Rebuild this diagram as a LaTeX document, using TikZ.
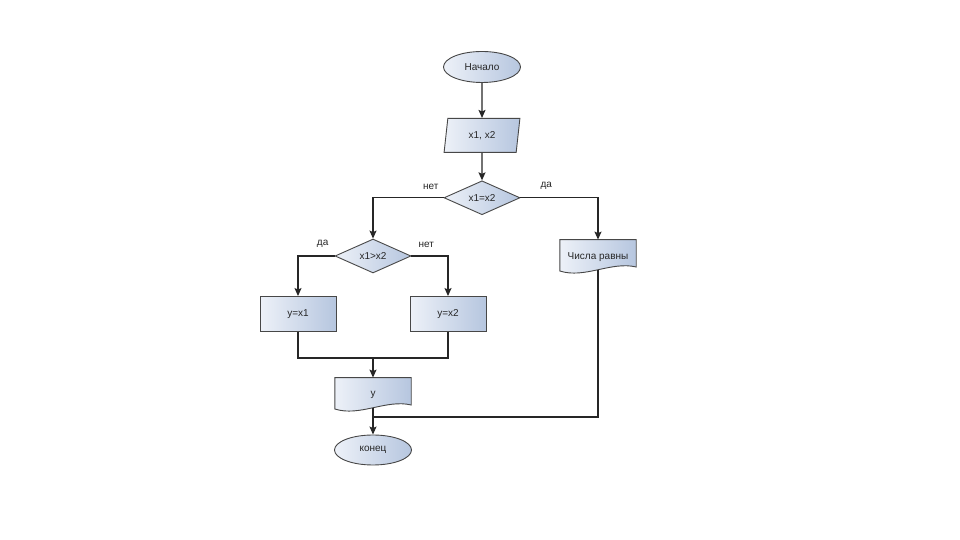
\documentclass[tikz,border=0pt]{standalone}
\usepackage{fontspec}
\setmainfont{Liberation Sans}
\usetikzlibrary{arrows.meta,positioning,shapes.geometric,backgrounds}
\definecolor{ink}{HTML}{262626}
\definecolor{pale}{HTML}{EDF1F8}
\definecolor{steel}{HTML}{B6C6DF}

\begin{document}
\begin{tikzpicture}[x=1pt,y=1pt,
  base/.style={draw=ink!85,line width=0.9pt,left color=pale,right color=steel,
               font=\fontsize{10}{12}\selectfont,text=ink,inner sep=0pt},
  term/.style={base,ellipse,minimum width=77pt,minimum height=31pt},
  inout/.style={base,trapezium,trapezium left angle=80,trapezium right angle=100,
                trapezium stretches=true,minimum width=76pt,minimum height=34pt},
  cond/.style={base,diamond,minimum width=76pt,minimum height=31pt},
  proc/.style={base,rectangle,minimum width=76pt,minimum height=35pt},
  doc/.style={rectangle,font=\fontsize{10}{12}\selectfont,text=ink,inner sep=0pt,
              minimum width=76pt,minimum height=34pt},
  wave/.style={draw=ink!85,line width=0.9pt,left color=pale,right color=steel},
  arr/.style={-{Stealth[length=8pt,width=7pt,inset=1.5pt]},line width=1.2pt,color=ink},
  line/.style={line width=1.2pt,color=ink},
  lbl/.style={font=\fontsize{10}{12}\selectfont,text=ink,inner sep=0pt}]
\useasboundingbox (0,0) rectangle (960,540);

% main column
\node[term] (start) at (482,473) {Начало};
\node[inout,below=35pt of start] (in) {x1, x2};
\node[cond,below=27.5pt of in] (d1) {x1=x2};

% branches
\node[cond] (d2) at (373,284) {x1>x2};
\node[proc] (y1) at (298,226) {y=x1};
\node[proc] (y2) at (448,226) {y=x2};
\node[doc,anchor=south] (out) at (373,128) {y};
\node[doc,anchor=south] (eq) at (598,266) {Числа равны};
\node[term,minimum height=30pt] (fin) at (373,90) {конец};

\begin{pgfonlayer}{background}
  \path[wave] (out.north west) -- (out.north east) -- ([yshift=7pt]out.south east)
    .. controls +(-25,6) and +(25,-8) .. ([yshift=3pt]out.south west) -- cycle;
  \path[wave] (eq.north west) -- (eq.north east) -- ([yshift=7pt]eq.south east)
    .. controls +(-25,6) and +(25,-8) .. ([yshift=3pt]eq.south west) -- cycle;
\end{pgfonlayer}

\coordinate (join) at (373,182);
\coordinate (merge) at (373,123);

\draw[arr] (start) -- (in);
\draw[arr] (in) -- (d1);
\draw[arr] (d1.west) -| (d2);
\draw[arr] (d1.east) -| (eq);
\draw[arr] (d2.west) -| (y1);
\draw[arr] (d2.east) -| (y2);
\draw[line] (y1) |- (join) -| (y2);
\draw[arr] (join) -- (out);
\draw[line] ([yshift=4pt]eq.south) |- (merge);
\draw[arr] ([yshift=4pt]out.south) -- (fin);

\node[lbl,above left=8pt and 5pt of d1.west] {нет};
\node[lbl,above right=8pt and 20pt of d1.east] {да};
\node[lbl,above left=8pt and 6pt of d2.west] {да};
\node[lbl,above right=8pt and 7pt of d2.east] {нет};
\end{tikzpicture}
\end{document}
